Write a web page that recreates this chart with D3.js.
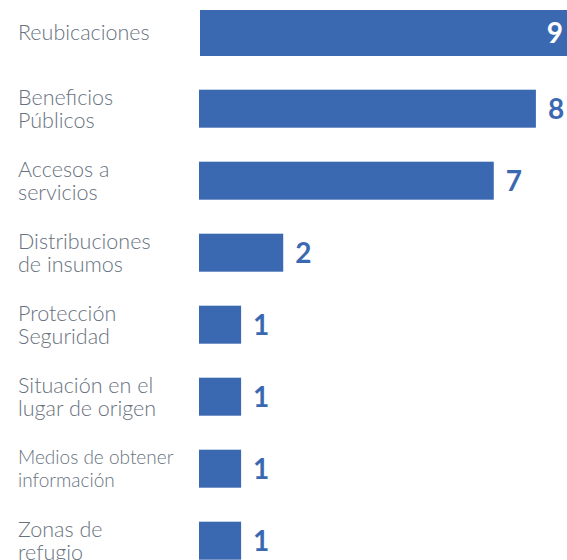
<!DOCTYPE html>
<html>
<head>
<meta charset="utf-8">
<script src="https://cdn.jsdelivr.net/npm/d3@7"></script>
<style>
  html, body { margin: 0; padding: 0; background: #ffffff; }
  svg { display: block; }
</style>
</head>
<body>
<svg id="chart" width="567" height="560"></svg>
<script>
// Categories (each entry is the lines of its label) and their counts
const categories = [
  ["Reubicaciones"],
  ["Beneficios", "Públicos"],
  ["Accesos a", "servicios"],
  ["Distribuciones", "de insumos"],
  ["Protección", "Seguridad"],
  ["Situación en el", "lugar de origen"],
  ["Medios de obtener", "información"],
  ["Zonas de", "refugio"]
];
const values = [9, 8, 7, 2, 1, 1, 1, 1];

const W = 567, H = 560;
const barColor = "#3b69b1";
const labelColor = "#68727e";

const svg = d3.select("#chart");

const keys = categories.map(c => c.join(" "));

// Rows: 72px apart, bars 38px tall
const y = d3.scaleBand()
  .domain(keys)
  .range([0.7, 576.7])
  .paddingInner(34 / 72)
  .paddingOuter(17 / 72);

const x = d3.scaleLinear()
  .domain([0, 9])
  .range([199, 578]);

const rows = svg.selectAll("g.row")
  .data(values.map((v, i) => ({ v, i, key: keys[i], lines: categories[i] })))
  .join("g")
  .attr("class", "row");

// Bars; the leading bar is drawn taller as the headline category
rows.append("rect")
  .attr("x", d => d.i === 0 ? x(0) + 1 : x(0))
  .attr("y", d => d.i === 0 ? y(d.key) - 7.7 : y(d.key))
  .attr("width", d => x(d.v) - x(0))
  .attr("height", d => d.i === 0 ? y.bandwidth() + 8 : y.bandwidth())
  .attr("fill", barColor);

const rowCentre = d => y(d.key) + y.bandwidth() / 2 + (d.i === 0 ? -4 : 0);

// Category labels, centred on their bar
rows.each(function(d) {
  const g = d3.select(this);
  const small = d.lines.some(l => l.length > 15);
  const fs = small ? 19 : 21.5;
  const lh = 23;
  const cy = rowCentre(d);
  const n = d.lines.length;
  const t = g.append("text")
    .attr("font-family", "Lato, 'Open Sans', sans-serif")
    .attr("font-weight", 300)
    .attr("font-size", fs)
    .attr("fill", labelColor);
  d.lines.forEach((line, k) => {
    t.append("tspan")
      .attr("x", 18)
      .attr("y", cy + (k - (n - 1) / 2) * lh)
      .attr("dy", "0.35em")
      .text(line);
  });
});

// Value labels: outside the bar, or inside in white when the bar runs off the edge
rows.append("text")
  .attr("font-family", "Lato, 'Open Sans', sans-serif")
  .attr("font-weight", 700)
  .attr("font-size", 28)
  .attr("dy", "0.35em")
  .each(function(d) {
    const end = x(d.v);
    const inside = end > W;
    const cy = rowCentre(d);
    d3.select(this)
      .attr("x", inside ? W - 4 : end + 12)
      .attr("y", cy)
      .attr("text-anchor", inside ? "end" : "start")
      .attr("fill", inside ? "#ffffff" : barColor)
      .text(d.v);
  });
</script>
</body>
</html>
